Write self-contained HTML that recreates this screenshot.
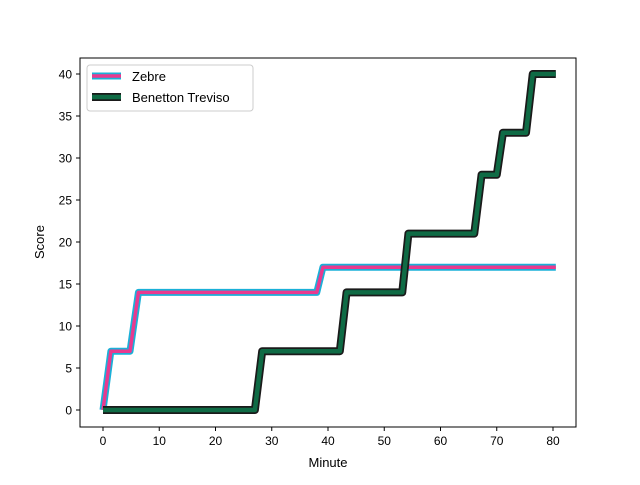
<!DOCTYPE html>
<html><head><meta charset="utf-8"><style>
body{margin:0;background:#fff;}
svg{font-family:"Liberation Sans","DejaVu Sans",sans-serif;}
</style></head><body>
<svg id="chart" width="640" height="480" viewBox="0 0 640 480">
<rect x="0" y="0" width="640" height="480" fill="#fff"/>
<g id="plot"></g>
<rect x="80" y="58" width="496" height="369" fill="none" stroke="#000" stroke-width="1"/>
<g id="axes"></g>
<text x="328" y="467" text-anchor="middle" font-size="13">Minute</text>
<text x="44" y="242" text-anchor="middle" font-size="13" transform="rotate(-90 44 242)">Score</text>
<g>
<rect x="87" y="65" width="166" height="46" rx="3" fill="#fff" fill-opacity="0.8" stroke="#ccc"/>
<g>
<line x1="92" y1="76" x2="121" y2="76" stroke="#1ab0d8" stroke-width="7"/>
<line x1="92" y1="76" x2="121" y2="76" stroke="#e83a8f" stroke-width="3.5"/>
<text x="132" y="81" font-size="13">Zebre</text>
</g>
<g>
<line x1="92" y1="97" x2="121" y2="97" stroke="#1a1a1a" stroke-width="8"/>
<line x1="92" y1="97" x2="121" y2="97" stroke="#0f6b45" stroke-width="4.5"/>
<text x="132" y="102" font-size="13">Benetton Treviso</text>
</g>
</g>
</svg>
<script>
const zebreMinutes=[0,1.4,4.8,6.3,38,39.1,80.5];
const zebreScores=[0,7,7,14,14,17,17];
const benMinutes=[0,27,28.3,42.1,43.3,53.2,54.3,66,67.3,70,71.1,75.2,76.4,80.5];
const benScores=[0,0,7,7,14,14,21,21,28,28,33,33,40,40];
const xTicks=[0,10,20,30,40,50,60,70,80];
const yTicks=[0,5,10,15,20,25,30,35,40];
const NS="http://www.w3.org/2000/svg";
function xs(v){return 103+v*5.625;}
function ys(v){return 410-v*8.4;}
const plot=document.getElementById('plot');
const axes=document.getElementById('axes');
function series(mins,scores,outer,inner,ow,iw,name){
  const pts=mins.map((m,i)=>xs(m)+','+ys(scores[i])).join(' ');
  [[outer,ow],[inner,iw]].forEach(([c,w],k)=>{
    const p=document.createElementNS(NS,'polyline');
    p.setAttribute('points',pts);p.setAttribute('fill','none');
    p.setAttribute('stroke',c);p.setAttribute('stroke-width',w);
    p.setAttribute('stroke-linejoin','round');
    
    
    plot.appendChild(p);
  });
}
series(zebreMinutes,zebreScores,'#1ab0d8','#e83a8f',7,3.5,'zebre');
series(benMinutes,benScores,'#1a1a1a','#0f6b45',8,4.5,'benetton-treviso');
xTicks.forEach(t=>{
  const l=document.createElementNS(NS,'line');
  l.setAttribute('x1',xs(t));l.setAttribute('x2',xs(t));l.setAttribute('y1',427);l.setAttribute('y2',431);l.setAttribute('stroke','#000');
  
  
  axes.appendChild(l);
  const tx=document.createElementNS(NS,'text');
  tx.setAttribute('x',xs(t));tx.setAttribute('y',445);tx.setAttribute('text-anchor','middle');tx.setAttribute('font-size','12');
  tx.textContent=t;
  
  
  axes.appendChild(tx);
});
yTicks.forEach(t=>{
  const l=document.createElementNS(NS,'line');
  l.setAttribute('x1',76);l.setAttribute('x2',80);l.setAttribute('y1',ys(t));l.setAttribute('y2',ys(t));l.setAttribute('stroke','#000');
  
  
  axes.appendChild(l);
  const tx=document.createElementNS(NS,'text');
  tx.setAttribute('x',72);tx.setAttribute('y',ys(t)+4.5);tx.setAttribute('text-anchor','end');tx.setAttribute('font-size','12');
  tx.textContent=t;
  
  
  axes.appendChild(tx);
});
</script>
</body></html>
